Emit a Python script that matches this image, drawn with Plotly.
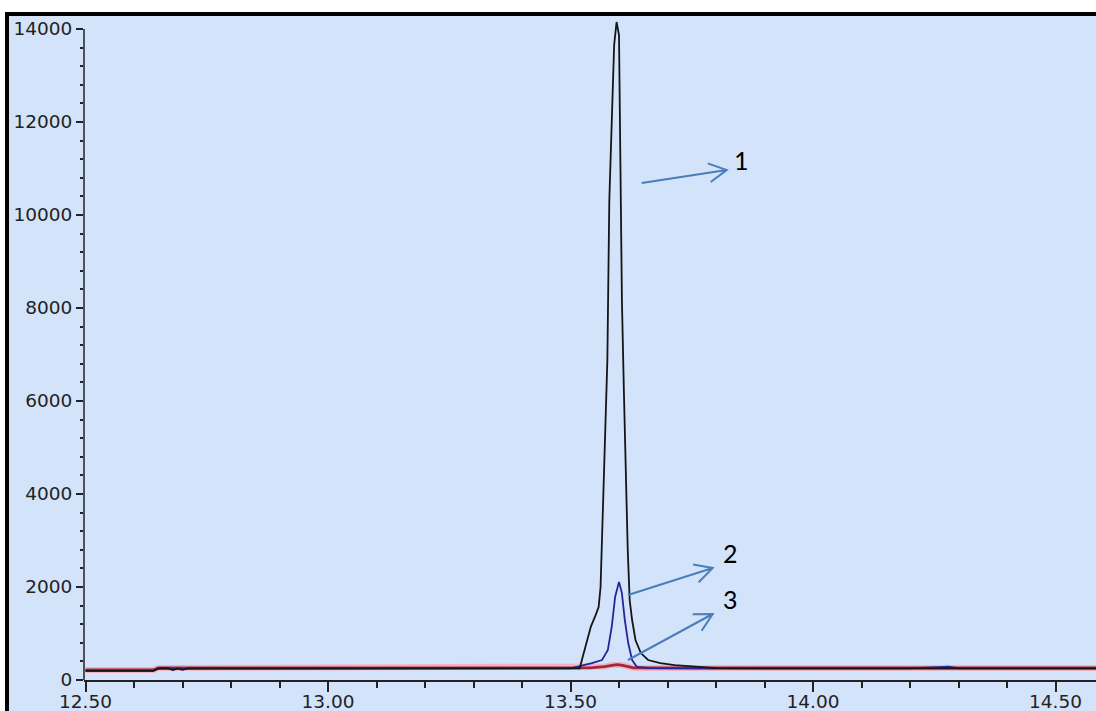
import math
import plotly.graph_objects as go

# ---------------- data ----------------
# Trace 1 (black)
t_black = [12.50, 12.55, 12.60, 12.64, 12.65, 12.67, 12.68, 12.69, 12.70, 12.71, 12.72,
           12.80, 12.90, 13.00, 13.10, 13.20, 13.30, 13.40, 13.50, 13.519,
           13.524, 13.532, 13.542, 13.552, 13.558, 13.562, 13.566, 13.571, 13.576,
           13.580, 13.585, 13.590, 13.595, 13.600, 13.603, 13.606, 13.610, 13.614,
           13.618, 13.622, 13.627, 13.634, 13.645, 13.660, 13.685, 13.715, 13.770,
           13.800, 13.90, 14.00, 14.10, 14.20, 14.30, 14.40, 14.50, 14.59]
v_black = [195, 190, 195, 195, 250, 255, 215, 250, 220, 250, 250,
           250, 250, 250, 250, 250, 250, 248, 248, 250,
           450, 750, 1150, 1400, 1570, 2000, 3440, 4950, 6880,
           10300, 12090, 13660, 14150, 13870, 11030, 8170, 6240, 4300,
           2800, 1720, 1290, 860, 580, 430, 365, 320, 280,
           255, 250, 250, 250, 250, 250, 250, 250, 250]

# Trace 2 (blue)
t_blue = [12.50, 12.60, 12.64, 12.65, 12.80, 13.00, 13.20, 13.40, 13.50, 13.544,
          13.565, 13.577, 13.585, 13.592, 13.600, 13.606, 13.612, 13.619, 13.627,
          13.637, 13.664, 13.80, 14.00, 14.20, 14.26, 14.28, 14.30, 14.40, 14.59]
v_blue = [200, 200, 200, 245, 245, 245, 245, 245, 250, 365,
          430, 645, 1140, 1785, 2110, 1870, 1290, 795, 430,
          280, 255, 250, 250, 250, 275, 285, 250, 250, 250]

# Trace 3 (red)
t_red = [12.50, 12.64, 12.65, 12.80, 13.00, 13.20, 13.40, 13.541, 13.570, 13.585,
         13.595, 13.605, 13.615, 13.630, 13.80, 14.00, 14.20, 14.40, 14.59]
v_red = [215, 215, 258, 258, 258, 258, 258, 260, 290, 320,
         330, 320, 300, 260, 258, 258, 258, 258, 258]

labels = ["1", "2", "3"]

# ---------------- layout geometry ----------------
W, H = 1096, 711
ML, MR, MT, MB = 84, 0, 16, 31
PW, PH = W - ML - MR, H - MT - MB

def px(x):
    return (x - ML) / PW

def py(y):
    return (H - MB - y) / PH

BG = "#D3E3FA"
AX = "#222222"
ARROW = "#4A7EBB"

fig = go.Figure()
fig.add_trace(go.Scatter(x=t_red, y=v_red, mode="lines",
                         line=dict(color="#F0B4C4", width=6), hoverinfo="skip"))
fig.add_trace(go.Scatter(x=t_red, y=v_red, mode="lines",
                         line=dict(color="#A02838", width=2.8)))
fig.add_trace(go.Scatter(x=t_blue, y=v_blue, mode="lines",
                         line=dict(color="#25259A", width=1.8)))
fig.add_trace(go.Scatter(x=t_black, y=v_black, mode="lines",
                         line=dict(color="#151515", width=1.8)))

shapes = []
# y axis line only up to 14000
shapes.append(dict(type="line", xref="paper", yref="y", x0=0, x1=0, y0=0, y1=14000,
                   line=dict(color=AX, width=1.5)))
# outer frame
shapes.append(dict(type="rect", xref="paper", yref="paper", x0=px(-5), x1=px(5),
                   y0=py(H + 5), y1=py(-5), fillcolor="white", line=dict(width=0), layer="above"))
shapes.append(dict(type="rect", xref="paper", yref="paper", x0=px(-5), x1=px(W + 5),
                   y0=py(12), y1=py(-5), fillcolor="white", line=dict(width=0), layer="above"))
shapes.append(dict(type="rect", xref="paper", yref="paper", x0=px(5), x1=px(9),
                   y0=py(H + 5), y1=py(12), fillcolor="black", line=dict(width=0), layer="above"))
shapes.append(dict(type="rect", xref="paper", yref="paper", x0=px(5), x1=px(W + 5),
                   y0=py(16), y1=py(12), fillcolor="black", line=dict(width=0), layer="above"))

# annotation arrows (pixel geometry) with open V heads
arrows = [((641.7, 183.0), (726.7, 170.0)),
          ((628.0, 595.0), (712.7, 568.0)),
          ((628.0, 660.0), (712.7, 614.0))]
label_pos = [(741, 160), (730, 553), (730, 599)]
HEAD_L, HEAD_A = 20, math.radians(28)
for (x0, y0), (x1, y1) in arrows:
    dx, dy = x1 - x0, y1 - y0
    n = math.hypot(dx, dy)
    bx, by = -dx / n, -dy / n
    arms = []
    for s in (1, -1):
        c, sn = math.cos(s * HEAD_A), math.sin(s * HEAD_A)
        ax = x1 + HEAD_L * (bx * c - by * sn)
        ay = y1 + HEAD_L * (bx * sn + by * c)
        arms.append((ax, ay))
    path = (f"M {px(x0)},{py(y0)} L {px(x1)},{py(y1)} "
            f"M {px(arms[0][0])},{py(arms[0][1])} L {px(x1)},{py(y1)} "
            f"L {px(arms[1][0])},{py(arms[1][1])}")
    shapes.append(dict(type="path", xref="paper", yref="paper", path=path,
                       line=dict(color=ARROW, width=2)))

annotations = []
for lab, (lx, ly) in zip(labels, label_pos):
    annotations.append(dict(x=px(lx), y=py(ly), xref="paper", yref="paper", text=lab,
                            showarrow=False, xanchor="center", yanchor="middle",
                            font=dict(family="Lato", size=25, color="black")))

tickfont = dict(family="DejaVu Sans", size=18.5, color=AX)
fig.update_layout(
    width=W, height=H,
    margin=dict(l=ML, r=MR, t=MT, b=MB, pad=0, autoexpand=False),
    paper_bgcolor=BG, plot_bgcolor=BG,
    showlegend=False,
    shapes=shapes, annotations=annotations,
    xaxis=dict(range=[12.5 + (ML - 85.5) / 485, 12.5 + (W - 85.5) / 485],
               automargin=False,
               tick0=12.5, dtick=0.5, tickformat=".2f",
               ticks="outside", ticklen=10, tickwidth=1.5, tickcolor=AX,
               ticklabelstandoff=-6,
               minor=dict(tick0=12.5, dtick=0.1, ticks="outside", ticklen=6,
                          tickwidth=1.5, tickcolor=AX, showgrid=False),
               showline=True, linecolor=AX, linewidth=1.5,
               showgrid=False, zeroline=False, tickfont=tickfont),
    yaxis=dict(range=[0, PH * 2000 / 93], automargin=False,
               tick0=0, dtick=2000, tickformat="d",
               ticks="outside", ticklen=7, tickwidth=1.5, tickcolor=AX,
               minor=dict(tick0=0, dtick=400, ticks="outside", ticklen=3,
                          tickwidth=1.5, tickcolor=AX, showgrid=False),
               showline=False, showgrid=False, zeroline=False, tickfont=tickfont),
)

fig.write_html("out.html",
               config={"displayModeBar": False},
               post_script="document.body.style.margin='0px';"
                           "document.body.style.overflow='hidden';")
